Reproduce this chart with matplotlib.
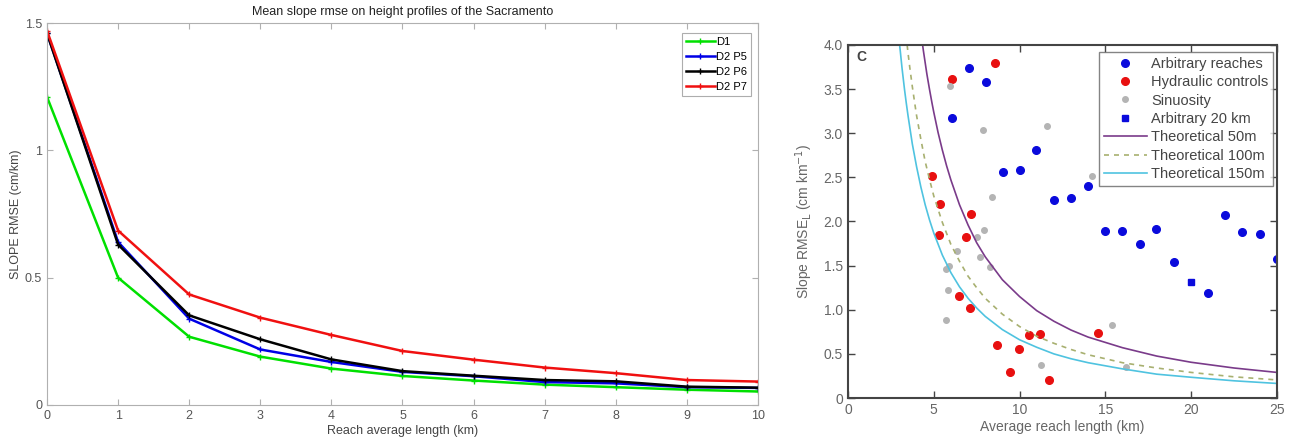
import numpy as np
import matplotlib
matplotlib.use("Agg")
import matplotlib.pyplot as plt

plt.rcParams['font.family'] = ['Liberation Sans', 'DejaVu Sans']

# left panel: mean slope rmse vs reach length
reach_km = [0, 1, 2, 3, 4, 5, 6, 7, 8, 9, 10]
d1 = [1.21, 0.50, 0.268, 0.19, 0.143, 0.114, 0.096, 0.08, 0.07, 0.06, 0.053]
d2_p5 = [1.46, 0.64, 0.339, 0.218, 0.169, 0.13, 0.113, 0.09, 0.085, 0.07, 0.067]
d2_p6 = [1.46, 0.63, 0.352, 0.258, 0.179, 0.133, 0.115, 0.098, 0.093, 0.072, 0.068]
d2_p7 = [1.47, 0.685, 0.434, 0.343, 0.275, 0.212, 0.178, 0.147, 0.125, 0.098, 0.092]
left_series = [("D1", d1, "#00e000"), ("D2 P5", d2_p5, "#0000e6"),
               ("D2 P6", d2_p6, "black"), ("D2 P7", d2_p7, "#f01010")]

# right panel: scatter points
arb_x = [6.06, 7.05, 8.02, 9.03, 10.0, 10.97, 12.0, 13.0, 14.0, 15.0, 16.0,
         17.0, 17.97, 18.98, 21.0, 22.0, 22.98, 24.0, 25.0]
arb_y = [3.17, 3.74, 3.58, 2.56, 2.58, 2.81, 2.24, 2.27, 2.40, 1.89, 1.89,
         1.74, 1.92, 1.54, 1.19, 2.07, 1.88, 1.86, 1.58]
hyd_x = [8.55, 6.08, 4.9, 5.34, 5.28, 7.2, 6.9, 6.5, 7.09, 8.7, 9.97, 9.42,
         10.55, 11.2, 11.69, 14.59]
hyd_y = [3.80, 3.62, 2.51, 2.20, 1.85, 2.08, 1.83, 1.16, 1.02, 0.60, 0.56,
         0.30, 0.71, 0.72, 0.20, 0.74]
sin_x = [5.93, 7.86, 11.6, 8.41, 7.94, 7.5, 7.69, 6.33, 5.7, 5.87, 8.3, 5.81,
         5.72, 11.25, 15.38, 16.2, 14.24]
sin_y = [3.53, 3.04, 3.08, 2.28, 1.90, 1.83, 1.60, 1.67, 1.46, 1.50, 1.48,
         1.22, 0.88, 0.37, 0.83, 0.35, 2.51]
arb20_x = [20.0]
arb20_y = [1.32]

# theoretical curves, values
t50_x = [4.35, 4.4, 4.5, 4.6, 4.75, 4.9, 5, 5.25, 5.5, 5.75, 6, 6.5, 7, 7.5, 8,
         9, 10, 11, 12, 13, 14, 16, 18, 20, 22.5, 25]
t50_y = [4.0, 3.93, 3.80, 3.67, 3.50, 3.34, 3.24, 3.01, 2.81, 2.63, 2.47, 2.19,
         1.96, 1.76, 1.60, 1.34, 1.15, 0.99, 0.87, 0.77, 0.69, 0.57, 0.475,
         0.405, 0.34, 0.29]
t100_x = [3.45, 3.5, 3.6, 3.75, 3.9, 4, 4.25, 4.5, 4.75, 5, 5.5, 6, 6.5, 7, 7.5,
          8, 9, 10, 11, 12, 13, 14, 16, 18, 20, 22.5, 25]
t100_y = [4.0, 3.91, 3.75, 3.53, 3.33, 3.20, 2.93, 2.68, 2.48, 2.29, 1.99, 1.74,
          1.55, 1.38, 1.25, 1.13, 0.95, 0.81, 0.70, 0.62, 0.55, 0.49, 0.40,
          0.34, 0.29, 0.24, 0.205]
t150_x = [3.01, 3.05, 3.15, 3.3, 3.4, 3.5, 3.75, 4, 4.25, 4.5, 4.75, 5, 5.5, 6,
          6.5, 7, 7.5, 8, 9, 10, 11, 12, 13, 14, 16, 18, 20, 22.5, 25]
t150_y = [4.0, 3.93, 3.74, 3.49, 3.34, 3.20, 2.88, 2.62, 2.39, 2.19, 2.02, 1.87,
          1.62, 1.42, 1.26, 1.13, 1.02, 0.925, 0.775, 0.66, 0.575, 0.50, 0.445,
          0.40, 0.33, 0.27, 0.235, 0.195, 0.165]

fig = plt.figure(figsize=(12.94, 4.45), dpi=100)

# ---- left panel ----
ax = fig.add_axes([0.0363, 0.0899, 0.5495, 0.8584])
for name, vals, col in left_series:
    ax.plot(reach_km, vals, color=col, lw=1.8, marker='+', ms=4, mew=1, label=name)
ax.set_xlim(0, 10)
ax.set_ylim(0, 1.5)
ax.set_xticks(range(0, 11))
ax.set_yticks([0, 0.5, 1, 1.5])
ax.set_yticklabels(['0', '0.5', '1', '1.5'])
for s in ax.spines.values():
    s.set_color('#b0b0b0')
    s.set_linewidth(0.8)
ax.tick_params(direction='in', top=True, right=True, length=4, color='#b0b0b0',
               labelsize=9, labelcolor='#555555')
ax.set_title('Mean slope rmse on height profiles of the Sacramento', fontsize=9,
             color='#222222', pad=6)
ax.set_xlabel('Reach average length (km)', fontsize=9, color='#444444', labelpad=2)
ax.set_ylabel('SLOPE RMSE (cm/km)', fontsize=9, color='#444444', labelpad=2)
leg = ax.legend(loc='upper right', fontsize=8, handlelength=2.6, handletextpad=0.1,
                borderpad=0.35, labelspacing=0.45, borderaxespad=0.2,
                fancybox=False, bbox_to_anchor=(0.993, 0.98))
leg.get_frame().set_edgecolor('#999999')
leg.get_frame().set_linewidth(0.8)

# ---- right panel ----
bx = fig.add_axes([0.6553, 0.1056, 0.3315, 0.7933])
bx.plot(arb_x, arb_y, 'o', color='#0a0adc', ms=5.5, label='Arbitrary reaches')
bx.plot(hyd_x, hyd_y, 'o', color='#e81010', ms=5.5, label='Hydraulic controls')
bx.plot(sin_x, sin_y, 'o', color='#b4b4b4', ms=4, label='Sinuosity')
bx.plot(arb20_x, arb20_y, 's', color='#0a0adc', ms=5, label='Arbitrary 20 km')
bx.plot(t50_x, t50_y, '-', color='#7a3b8a', lw=1.2, label='Theoretical 50m')
bx.plot(t100_x, t100_y, '--', color='#a8b070', lw=1.2, dashes=(3, 3),
        label='Theoretical 100m')
bx.plot(t150_x, t150_y, '-', color='#4fc3e0', lw=1.2, label='Theoretical 150m')
bx.set_xlim(0, 25)
bx.set_ylim(0, 4)
bx.set_xticks([0, 5, 10, 15, 20, 25])
bx.set_yticks(np.arange(0, 4.01, 0.5))
bx.set_yticklabels(['0', '0.5', '1.0', '1.5', '2.0', '2.5', '3.0', '3.5', '4.0'])
for s in bx.spines.values():
    s.set_color('#444444')
    s.set_linewidth(1.5)
bx.tick_params(direction='in', top=True, right=True, length=5, color='#444444',
               labelsize=10, labelcolor='#666666', width=1)
bx.set_xlabel('Average reach length (km)', fontsize=10, color='#666666', labelpad=2)
bx.set_ylabel('Slope RMSE$_\\mathrm{L}$ (cm km$^{-1}$)', fontsize=10,
              color='#666666', labelpad=6)
bx.text(0.02, 0.985, 'C', transform=bx.transAxes, fontsize=10, fontweight='bold',
        color='#444444', va='top', ha='left')
leg2 = bx.legend(loc='upper right', fontsize=10.5, handlelength=2.9, handletextpad=0.3,
                 borderpad=0.35, labelspacing=0.3, borderaxespad=0.1,
                 fancybox=False, bbox_to_anchor=(0.995, 0.985))
leg2.get_frame().set_edgecolor('#666666')
leg2.get_frame().set_linewidth(1)
for t in leg2.get_texts():
    t.set_color('#444444')

fig.savefig('out.png', dpi=100)
